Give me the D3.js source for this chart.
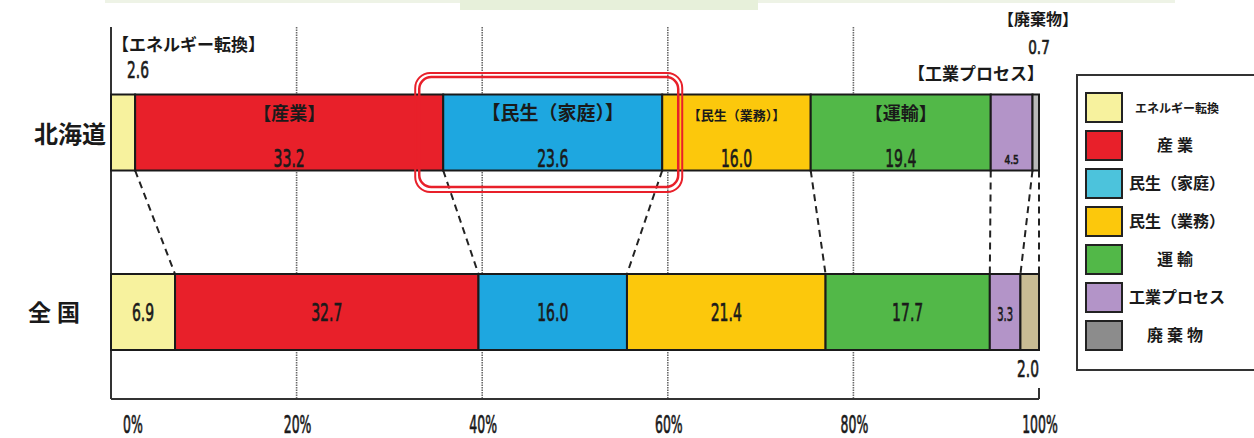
<!DOCTYPE html>
<html>
<head>
<meta charset="utf-8">
<script src="https://cdn.jsdelivr.net/npm/d3@7"></script>
<style>
  body { margin: 0; background: #fff; }
  text { font-family: "Noto Sans CJK JP", sans-serif; fill: #1a1a1a; }
  .num { font-family: "DejaVu Sans", sans-serif; font-weight: normal; stroke: #1a1a1a; stroke-width: 0.7; }
</style>
</head>
<body>
<div id="vis"></div>
<script>
// chart data
const regions = ["北海道", "全国"];
const sectors = ["エネルギー転換", "産業", "民生（家庭）", "民生（業務）", "運輸", "工業プロセス", "廃棄物"];
const hokkaido = [2.6, 33.2, 23.6, 16.0, 19.4, 4.5, 0.7];
const zenkoku = [6.9, 32.7, 16.0, 21.4, 17.7, 3.3, 2.0];
const ticks = [0, 20, 40, 60, 80, 100];

const barColors = ["#f7f29e", "#e8202a", "#1ea7e0", "#fcc80c", "#52b848", "#b394c8", "#b9b9b9"];
const zenColors = ["#f7f29e", "#e8202a", "#1ea7e0", "#fcc80c", "#52b848", "#b394c8", "#c8bc94"];
const legendColors = ["#f7f29e", "#e8202a", "#4cc3dc", "#fcc80c", "#52b848", "#b394c8", "#8c8c8c"];

width = 1254;
height = 438;
margin = ({top: 27, right: 215, bottom: 39, left: 111});
const barH = 76;

let x = d3.scaleLinear().domain([0, 100]).range([margin.left, width - margin.right]);
let y = d3.scalePoint().domain(regions).range([132.5, 312]);

const svg = d3.select("#vis").append("svg").attr("width", width).attr("height", height);

// faint strip at the top (page remnant)
svg.append("rect").attr("x", 105).attr("y", 0).attr("width", 1070).attr("height", 3).attr("fill", "#eef3e6");
svg.append("rect").attr("x", 460).attr("y", 0).attr("width", 298).attr("height", 10).attr("fill", "#e7f0da");

// stack helper
function stackOf(vals) {
  let acc = 0;
  return vals.map((v, i) => { const s = {i: i, v: v, x0: acc, x1: acc + v}; acc += v; return s; });
}
const hk = stackOf(hokkaido);
const zk = stackOf(zenkoku);

// gridlines
svg.append("g").selectAll("line").data(ticks.filter(t => t > 0 && t < 100)).enter().append("line")
  .attr("x1", d => x(d)).attr("x2", d => x(d))
  .attr("y1", margin.top).attr("y2", height - margin.bottom)
  .attr("stroke", "#6a6a6a").attr("stroke-width", 1.6).attr("stroke-dasharray", "1.5,1");

// axes frame
const yb = height - margin.bottom;
svg.append("line").attr("x1", x(0)).attr("x2", x(0)).attr("y1", margin.top).attr("y2", yb)
  .attr("stroke", "#333").attr("stroke-width", 2);
svg.append("line").attr("x1", x(0)).attr("x2", x(100)).attr("y1", yb).attr("y2", yb)
  .attr("stroke", "#333").attr("stroke-width", 2);
svg.append("line").attr("x1", x(100)).attr("x2", x(100)).attr("y1", yb - 11).attr("y2", yb)
  .attr("stroke", "#333").attr("stroke-width", 2);

// tick labels (narrow type, like the original)
svg.append("g").selectAll("text").data(ticks).enter().append("text")
  .attr("class", "num")
  .attr("text-anchor", "middle")
  .attr("font-size", 24)
  .attr("transform", d => `translate(${d === 0 ? x(d) + 22 : x(d) + 1},433) scale(0.52,1)`)
  .text(d => d + "%");

// dashed connectors
const conn = d3.range(hk.length).map(i => ({a: hk[i].x1, b: zk[i].x1}));
svg.append("g").selectAll("line").data(conn).enter().append("line")
  .attr("x1", d => x(d.a)).attr("y1", y("北海道") + barH / 2)
  .attr("x2", d => x(d.b)).attr("y2", y("全国") - barH / 2)
  .attr("stroke", "#222").attr("stroke-width", 2).attr("stroke-dasharray", "7,5");

// bars
function drawBar(stack, region, colors) {
  svg.append("g").selectAll("rect").data(stack).enter().append("rect")
    .attr("x", d => x(d.x0)).attr("width", d => x(d.x1) - x(d.x0))
    .attr("y", y(region) - barH / 2).attr("height", barH)
    .attr("fill", d => colors[d.i]).attr("stroke", "#1a1a1a").attr("stroke-width", 2);
}
drawBar(hk, "北海道", barColors);
drawBar(zk, "全国", zenColors);

// region labels
svg.append("text").attr("x", 70).attr("y", y("北海道") + 10).attr("text-anchor", "middle")
  .attr("font-size", 24).attr("font-weight", "bold").text("北海道");
svg.append("text").attr("x", 57).attr("y", y("全国") + 9).attr("text-anchor", "middle")
  .attr("font-size", 23).attr("font-weight", "bold").attr("letter-spacing", 6).text("全国");

// labels inside Hokkaido bar
const hkNames = [null, "【産業】", "【民生（家庭）】", "【民生（業務）】", "【運輸】", null, null];
const hkNameSize = [0, 18, 19, 13, 18, 0, 0];
svg.append("g").selectAll("text").data(hk.filter(d => hkNames[d.i])).enter().append("text")
  .attr("x", d => (x(d.x0) + x(d.x1)) / 2).attr("y", y("北海道") - 13)
  .attr("text-anchor", "middle").attr("font-weight", "bold")
  .attr("font-size", d => hkNameSize[d.i])
  .text(d => hkNames[d.i]);
svg.append("g").selectAll("text").data(hk.filter(d => d.i >= 1 && d.i <= 5)).enter().append("text")
  .attr("class", "num")
  .attr("text-anchor", "middle")
  .attr("font-size", d => d.i === 5 ? 13 : 25)
  .attr("transform", d => `translate(${(x(d.x0) + x(d.x1)) / 2},${y("北海道") + (d.i === 5 ? 31 : 34)}) scale(${d.i === 5 ? 0.7 : 0.56},1)`)
  .text(d => d3.format(".1f")(d.v));

// labels inside Zenkoku bar
svg.append("g").selectAll("text").data(zk.filter(d => d.i <= 5)).enter().append("text")
  .attr("class", "num")
  .attr("text-anchor", "middle")
  .attr("font-size", d => d.i === 5 ? 20 : 25)
  .attr("transform", d => `translate(${(x(d.x0) + x(d.x1)) / 2},${y("全国") + 9}) scale(${d.i === 5 ? 0.5 : 0.56},1)`)
  .text(d => d3.format(".1f")(d.v));

// callouts outside bars
svg.append("text").attr("x", x(0) + 1).attr("y", 51).attr("font-size", 17).attr("font-weight", "bold").text("【エネルギー転換】");
svg.append("text").attr("class", "num").attr("font-size", 23)
  .attr("transform", `translate(${x(0) + 16},78) scale(0.6,1)`).text(d3.format(".1f")(hokkaido[0]));
svg.append("text").attr("x", 1038).attr("y", 25).attr("text-anchor", "middle").attr("font-size", 16).attr("font-weight", "bold").text("【廃棄物】");
svg.append("text").attr("class", "num").attr("font-size", 20).attr("text-anchor", "middle")
  .attr("transform", `translate(1039,54) scale(0.68,1)`).text(d3.format(".1f")(hokkaido[6]));
svg.append("text").attr("x", 976).attr("y", 80).attr("text-anchor", "middle").attr("font-size", 17).attr("font-weight", "bold").text("【工業プロセス】");
svg.append("text").attr("class", "num").attr("font-size", 23).attr("text-anchor", "end")
  .attr("transform", `translate(${x(100)},377) scale(0.6,1)`).text(d3.format(".1f")(zenkoku[6]));

// highlight around 民生（家庭）
const hb = hk[2];
svg.append("rect").attr("x", x(hb.x0) - 28).attr("y", 73).attr("width", x(hb.x1) - x(hb.x0) + 48)
  .attr("height", 119).attr("rx", 15).attr("fill", "none").attr("stroke", "#e8202a").attr("stroke-width", 2);
svg.append("rect").attr("x", x(hb.x0) - 24).attr("y", 77).attr("width", x(hb.x1) - x(hb.x0) + 40)
  .attr("height", 110).attr("rx", 12).attr("fill", "none").attr("stroke", "#e8202a").attr("stroke-width", 2.5);

// legend
const lg = svg.append("g");
lg.append("rect").attr("x", 1077).attr("y", 75).attr("width", 200).attr("height", 295)
  .attr("fill", "#fff").attr("stroke", "#333").attr("stroke-width", 2);
const ly = d3.scaleLinear().domain([0, 6]).range([93, 321]);
lg.selectAll("rect.sw").data(sectors).enter().append("rect").attr("class", "sw")
  .attr("x", 1086).attr("y", (d, i) => ly(i)).attr("width", 36).attr("height", 29)
  .attr("fill", (d, i) => legendColors[i]).attr("stroke", "#222").attr("stroke-width", 2);
lg.selectAll("text").data(sectors).enter().append("text")
  .attr("x", 1177).attr("y", (d, i) => ly(i) + 20)
  .attr("text-anchor", "middle").attr("font-weight", "bold")
  .attr("font-size", (d, i) => i === 0 ? 12 : 16)
  .attr("letter-spacing", (d, i) => (i === 1 || i === 4 || i === 6) ? 4 : 0)
  .text(d => d);
</script>
</body>
</html>
